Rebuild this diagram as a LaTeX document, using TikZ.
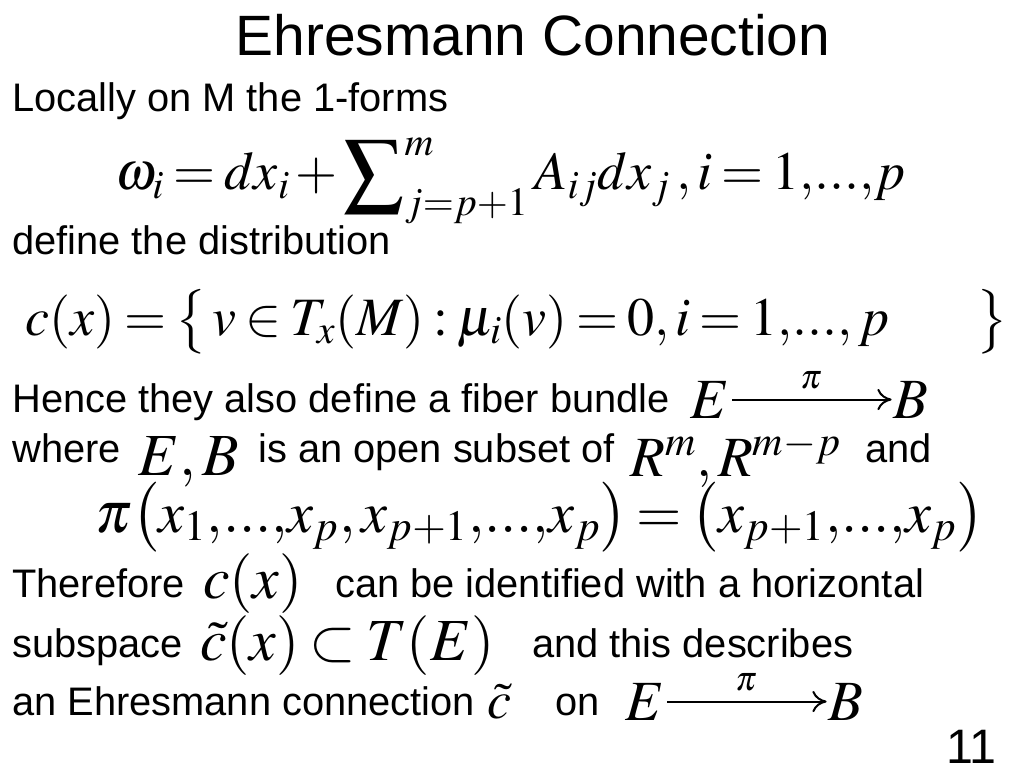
\documentclass[tikz,border=0pt]{standalone}
\usepackage{mathptmx}
\usepackage[no-math]{fontspec}
\setmainfont{Liberation Sans}
\usetikzlibrary{arrows.meta}
\thickmuskip=3mu plus 2mu
\medmuskip=2mu plus 1mu
\newcommand{\dts}{{,}{.}{.}{.}{,}}
\begin{document}
\begin{tikzpicture}[x=0.703125pt,y=-0.703125pt,
	txt/.style={anchor=base west,inner sep=0pt,font=\fontsize{28}{34}\selectfont},
	mth/.style={anchor=base west,inner sep=0pt,font=\fontsize{#1}{#1}\selectfont},
	mth/.default=40,
	map/.style={-{To[length=10pt,width=15pt]},line width=1.4pt,shorten <=2pt,shorten >=1pt}]
	\useasboundingbox[fill=white] (0,0) rectangle (1024,768);
	% title
	\node (title) at (533,56)	[anchor=base,inner sep=0pt,font=\fontsize{40}{48}\selectfont]	{Ehresmann Connection};
	% the 1-forms
	\node (locally) at (12,112)	[txt]	{Locally on M the 1-forms};
	\node (forms) at (115,190)	[mth=38]	{$\omega_i = dx_i + \mathop{\vcenter{\hbox{\fontsize{60}{60}\selectfont$\sum$}}}\nolimits_{j=p+1}^{m} A_{ij}dx_j\,, i = 1\dts p$};
	\node (define) at (12,255)	[txt]	{define the distribution};
	\node (distr) at (25,335)	[mth=38]	{$c(x) = \bigl\{\, v \in T_x(M) : \mu_i(v) = 0, i = 1\dts\, p \hspace{1.6em} \bigr\}$};
	% fiber bundle
	\node (hence) at (12,412)	[txt]	{Hence they also define a fiber bundle};
	\node (E1) at (690,418)	[mth]	{$E$};
	\node (B1) at (893,418)	[mth]	{$B$};
	\draw[map] (E1) -- node[above=3pt,font=\fontsize{24}{24}\selectfont] (pi1) {$\pi$} (B1);
	\node (where) at (12,462)	[txt]	{where};
	\node (EB) at (138,475)	[mth=42]	{$E, B$};
	\node (subset) at (258,462)	[txt]	{is an open subset of};
	\node (Rm) at (630,476)	[mth]	{$R^m, R^{m-p}$};
	\node (and) at (865,462)	[txt]	{and};
	\node (proj) at (95,532)	[mth=41]	{$\pi\bigl(x_1\dts x_p, x_{p+1}\dts x_p\bigr) = \bigl(x_{p+1}\dts x_p\bigr)$};
	% horizontal subspace
	\node (therefore) at (12,597)	[txt]	{Therefore};
	\node (cx) at (203,598)	[mth=42]	{$c(x)$};
	\node (ident) at (335,597)	[txt]	{can be identified with a horizontal};
	\node (subspace) at (12,657)	[txt]	{subspace};
	\node (ctil) at (200,660)	[mth=42]	{$\tilde{c}(x) \subset T(E)$};
	\node (describes) at (532,657)	[txt]	{and this describes};
	\node (ehres) at (12,715)	[txt]	{an Ehresmann connection};
	\node (conn) at (487,718)	[mth=38]	{$\tilde{c}$};
	\node (on) at (555,715)	[txt]	{on};
	\node (E2) at (625,720)	[mth]	{$E$};
	\node (B2) at (828,720)	[mth]	{$B$};
	\draw[map] (E2) -- node[above=3pt,font=\fontsize{24}{24}\selectfont] (pi2) {$\pi$} (B2);
	% page number
	\node (page) at (997,763)	[anchor=base east,inner sep=0pt,font=\fontsize{34}{40}\selectfont]	{11};
\end{tikzpicture}
\end{document}
